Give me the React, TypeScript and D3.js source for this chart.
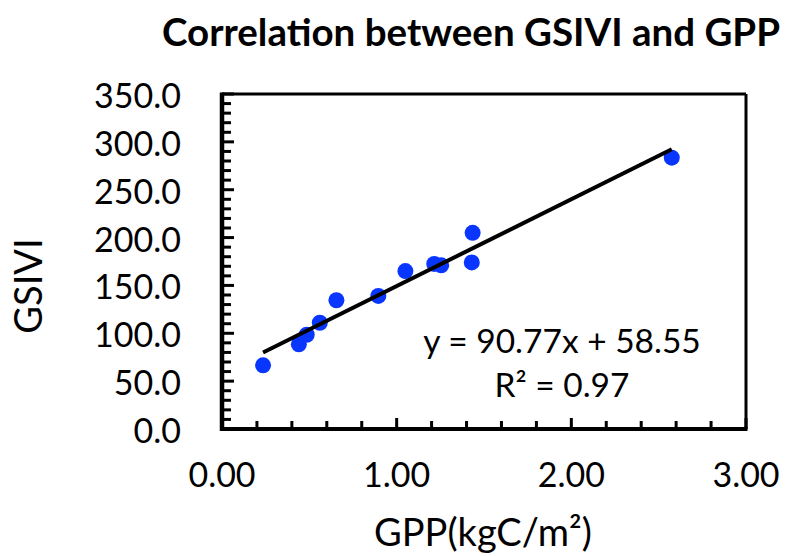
import React from "react";
import * as d3 from "d3";

const gpp = [0.235, 0.44, 0.485, 0.56, 0.655, 0.895, 1.05, 1.215, 1.255, 1.43, 1.435, 2.575];
const gsivi = [66.5, 88.5, 98.5, 111, 134.5, 139, 165, 172.5, 171, 174, 205, 283.5];
const xTickValues = [0, 1, 2, 3];
const xTickLabels = ["0.00", "1.00", "2.00", "3.00"];
const yTickValues = [0, 50, 100, 150, 200, 250, 300, 350];
const yTickLabels = ["0.0", "50.0", "100.0", "150.0", "200.0", "250.0", "300.0", "350.0"];
const slope = 90.77;
const intercept = 58.55;
const equationText = "y = 90.77x + 58.55";
const r2Text = "R² = 0.97";
const titleText = "Correlation between GSIVI and GPP";
const xTitle = "GPP(kgC/m²)";
const yTitle = "GSIVI";

const W = 795;
const H = 556;
const FONT = "Lato, 'Open Sans', sans-serif";

export default function App() {
  const x = d3.scaleLinear().domain([0, 3]).range([222, 746]);
  const y = d3.scaleLinear().domain([0, 350]).range([429, 94]);
  const xMinor = d3.range(0, 3.0001, 0.2).filter((v) => Math.abs(v - Math.round(v)) > 1e-6);
  const yMinor = d3.range(0, 350.0001, 10).filter((v) => v % 50 !== 0);
  const xMin = d3.min(gpp) as number;
  const xMax = d3.max(gpp) as number;
  const line = d3.line<number>().x((d) => x(d)).y((d) => y(slope * d + intercept));

  return (
    <svg width={W} height={H} style={{ position: "absolute", left: 0, top: 0, background: "#fff" }}>
      <rect x={0} y={0} width={W} height={H} fill="#fff" />
      <text x={471} y={46} textAnchor="middle" fontFamily={FONT} fontWeight="bold" fontSize={38.5} fill="#000">
        {titleText}
      </text>
      {/* plot border */}
      <line x1={222} x2={746} y1={94} y2={94} stroke="#000" strokeWidth={3} />
      <line x1={746} x2={746} y1={94} y2={429} stroke="#000" strokeWidth={3} />
      {/* minor ticks */}
      {yMinor.map((v) => (
        <line key={"ym" + v} x1={222} x2={231} y1={y(v)} y2={y(v)} stroke="#000" strokeWidth={3} />
      ))}
      {yTickValues.map((v) => (
        <line key={"yM" + v} x1={222} x2={234} y1={y(v)} y2={y(v)} stroke="#000" strokeWidth={3} />
      ))}
      {xMinor.map((v) => (
        <line key={"xm" + v} x1={x(v)} x2={x(v)} y1={429} y2={421} stroke="#000" strokeWidth={3} />
      ))}
      {xTickValues.map((v) => (
        <line key={"xM" + v} x1={x(v)} x2={x(v)} y1={429} y2={418} stroke="#000" strokeWidth={3} />
      ))}
      {/* axes */}
      <line x1={222} x2={222} y1={92.5} y2={431} stroke="#000" strokeWidth={4.5} />
      <line x1={220} x2={747.5} y1={429} y2={429} stroke="#000" strokeWidth={4} />
      {/* tick labels */}
      {yTickValues.map((v, i) => (
        <text key={"yl" + v} x={181} y={y(v) + 14} textAnchor="end" fontFamily={FONT} fontSize={34} fill="#000">
          {yTickLabels[i]}
        </text>
      ))}
      {xTickValues.map((v, i) => (
        <text key={"xl" + v} x={x(v)} y={487} textAnchor="middle" fontFamily={FONT} fontSize={34} fill="#000">
          {xTickLabels[i]}
        </text>
      ))}
      {/* data */}
      {gpp.map((g, i) => (
        <circle key={"p" + i} cx={x(g)} cy={y(gsivi[i])} r={8} fill="#0836FF" />
      ))}
      <path d={line([xMin, xMax]) as string} stroke="#000" strokeWidth={4} fill="none" />
      <text x={562} y={353} textAnchor="middle" fontFamily={FONT} fontSize={33.5} fill="#000">
        {equationText}
      </text>
      <text x={562} y={397} textAnchor="middle" fontFamily={FONT} fontSize={33.5} fill="#000">
        {r2Text}
      </text>
      <text x={483} y={546} textAnchor="middle" fontFamily={FONT} fontSize={38} fill="#000">
        {xTitle}
      </text>
      <text transform={`translate(42,286) rotate(-90)`} textAnchor="middle" fontFamily={FONT} fontSize={38} fill="#000">
        {yTitle}
      </text>
    </svg>
  );
}
